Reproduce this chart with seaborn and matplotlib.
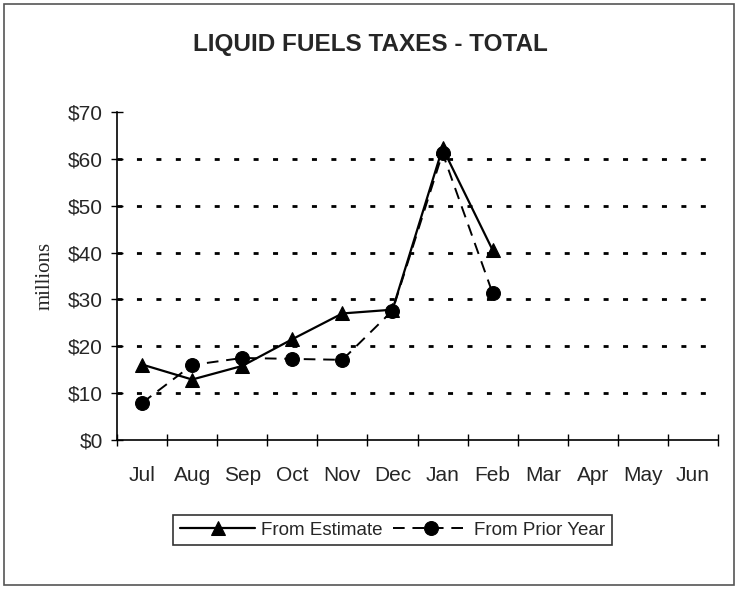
import matplotlib
matplotlib.use("Agg")
import matplotlib.pyplot as plt
import seaborn as sns
import pandas as pd
import numpy as np
from matplotlib.patches import Rectangle

months = ["Jul", "Aug", "Sep", "Oct", "Nov", "Dec", "Jan", "Feb", "Mar", "Apr", "May", "Jun"]
from_estimate = [16.1, 12.9, 15.8, 21.5, 27.0, 27.8, 62.3, 40.5]
from_prior_year = [7.9, 16.0, 17.5, 17.3, 17.1, 27.6, 61.2, 31.3]
y_ticks = [0, 10, 20, 30, 40, 50, 60, 70]
y_tick_labels = ["$0", "$10", "$20", "$30", "$40", "$50", "$60", "$70"]

sns.set_theme(style="white")
plt.rcParams["font.family"] = ["Liberation Sans", "DejaVu Sans"]

fig = plt.figure(figsize=(7.38, 5.89), dpi=100)
ax = fig.add_axes([0.1585, 0.253, 0.8145, 0.557])

df_est = pd.DataFrame({"x": np.arange(len(from_estimate)), "y": from_estimate})
df_pri = pd.DataFrame({"x": np.arange(len(from_prior_year)), "y": from_prior_year})

# gridlines
for yv in y_ticks[1:-1]:
    ax.axhline(yv, color="black", lw=2.0, ls=(0, (1.8, 5.2)), zorder=1)

sns.lineplot(data=df_pri, x="x", y="y", ax=ax, color="black", lw=1.4,
             marker="o", markersize=10, markeredgecolor="black",
             label="From Prior Year", zorder=3)
ax.lines[-1].set_linestyle((0, (6, 4)))
sns.lineplot(data=df_est, x="x", y="y", ax=ax, color="black", lw=1.6,
             marker="^", markersize=10, markeredgecolor="black",
             label="From Estimate", zorder=4)

ax.set_xlim(-0.5, 11.5)
ax.set_ylim(0, 70)
ax.set_yticks(y_ticks)
ax.set_yticklabels(y_tick_labels, fontsize=15)
ax.set_xticks(np.arange(-0.5, 12, 1))
ax.set_xticklabels([])
ax.set_xticks(np.arange(12), minor=True)
ax.set_xticklabels(months, minor=True, fontsize=15)
ax.tick_params(axis="x", which="minor", length=0, pad=19)
ax.tick_params(axis="x", which="major", direction="inout", length=8, width=1, color="black")
ax.tick_params(axis="y", direction="inout", length=8, width=1, color="black", pad=6, left=True)
ax.tick_params(axis="x", bottom=True)
ax.set_xlabel("")
ax.set_ylabel("millions", fontsize=15, family=["Liberation Serif", "DejaVu Serif"], labelpad=10)

for s in ["top", "right"]:
    ax.spines[s].set_visible(False)
for s in ["left", "bottom"]:
    ax.spines[s].set_color("black")
    ax.spines[s].set_linewidth(1.2)

fig.text(0.502, 1 - 45 / 589, "LIQUID FUELS TAXES - TOTAL", fontsize=17.5, fontweight="bold",
         ha="center", va="center")

handles, labels = ax.get_legend_handles_labels()
order = [labels.index("From Estimate"), labels.index("From Prior Year")]
leg = ax.legend([handles[i] for i in order], [labels[i] for i in order],
                loc="center", bbox_to_anchor=(0.532, 0.10), bbox_transform=fig.transFigure,
                ncol=2, fontsize=13.5, frameon=True, fancybox=False, edgecolor="black",
                handlelength=4.0, columnspacing=0.6, handletextpad=0.3, borderpad=0.35)
leg.get_frame().set_linewidth(1.2)

fig.patches.append(Rectangle((0.006, 0.007), 0.988, 0.986, transform=fig.transFigure,
                             fill=False, edgecolor="#555555", lw=1.2))

fig.savefig("out.png", dpi=100, facecolor="white")
